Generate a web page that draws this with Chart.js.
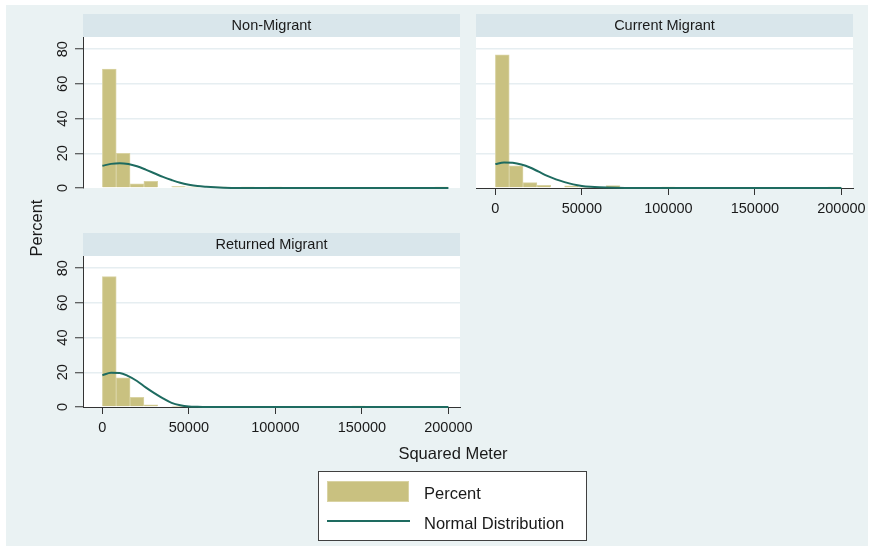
<!DOCTYPE html>
<html>
<head>
<meta charset="utf-8">
<script src="https://cdn.jsdelivr.net/npm/chart.js@4.4.1/dist/chart.umd.min.js"></script>
<style>
  body { margin: 0; width: 873px; height: 550px; background: #fff; position: relative; overflow: hidden;
         font-family: "Liberation Sans", Arial, sans-serif; color: #1a1a1a; }
  #bg { position: absolute; left: 6px; top: 5px; width: 862px; height: 541px; background: #eaf2f3; }
  canvas { position: absolute; }
  #c1 { left: 0; top: 10px; }
  #c2 { left: 465px; top: 10px; }
  #c3 { left: 0; top: 228px; }
  .baslik { position: absolute; font-size: 16.5px; font-weight: normal; white-space: nowrap;
            text-align: center; height: 20px; line-height: 20px; }
  #ytitle { left: 6px; top: 218px; width: 60px; transform: rotate(-90deg); }
  #xtitle { left: 393px; top: 443px; width: 120px; }
  #legend { position: absolute; left: 318px; top: 471px; width: 269px; height: 70px; box-sizing: border-box;
            border: 1px solid #404040; background: #fff; }
  #sw1 { position: absolute; left: 8px; top: 9px; width: 82px; height: 21px; box-sizing: border-box;
         background: #c9c180; border: 1px solid #d9d3a3; }
  #sw2 { position: absolute; left: 8px; top: 48px; width: 83px; height: 2px; background: #1e6b60; }
  .lt { position: absolute; left: 105px; font-size: 16.5px; height: 20px; line-height: 20px; white-space: nowrap; }
</style>
</head>
<body>
<div id="bg"></div>
<canvas id="c1" width="470" height="190" style="width:470px;height:190px"></canvas>
<canvas id="c2" width="408" height="215" style="width:408px;height:215px"></canvas>
<canvas id="c3" width="480" height="217" style="width:480px;height:217px"></canvas>
<div id="ytitle" class="baslik">Percent</div>
<div id="xtitle" class="baslik">Squared Meter</div>
<div id="legend">
  <div id="sw1"></div>
  <div class="lt" style="top:11px">Percent</div>
  <div id="sw2"></div>
  <div class="lt" style="top:41px">Normal Distribution</div>
</div>
<script>
// histogram bins (8000 m2 wide), midpoints
const binMids = [4000, 12000, 20000, 28000, 36000, 44000, 52000, 60000, 68000, 76000,
                 84000, 92000, 100000, 108000, 116000, 124000, 132000, 140000, 148000, 156000,
                 164000, 172000, 180000, 188000, 196000];

const nonMigrant = [68.5, 20, 2.4, 3.8, 0, 0.8, 0.6, 0, 0.5, 0,
                    0.5, 0, 0.5, 0, 0, 0, 0, 0, 0, 0,
                    0, 0, 0, 0, 0.5];
const currentMigrant = [76.7, 12.8, 3.1, 1.5, 0, 1.3, 0.6, 0, 1.4, 0,
                        0, 0, 0.5, 0, 0, 0, 0, 0, 0, 0,
                        0, 0, 0, 0, 0.5];
const returnedMigrant = [75.1, 16.8, 5.5, 1.3, 0, 0.4, 0, 0, 0, 0,
                         0, 0, 0, 0, 0, 0, 0, 0, 0.5, 0,
                         0, 0, 0, 0, 0];

// normal curves
const curveX = [0, 5000, 10000, 15000, 20000, 25000, 30000, 35000, 40000, 45000,
                50000, 55000, 60000, 70000, 80000, 200000];
const nonMigrantCurve = [12.8, 13.9, 14.3, 13.8, 12.5, 10.6, 8.5, 6.4, 4.6, 3.0,
                         1.9, 1.1, 0.7, 0.2, 0.05, 0];
const currentMigrantCurve = [13.8, 14.7, 14.5, 13.5, 11.8, 9.4, 7.0, 5.0, 3.4, 2.1,
                             1.2, 0.7, 0.4, 0.1, 0, 0];
const returnedMigrantCurve = [18.3, 19.7, 19.6, 17.8, 15.0, 11.3, 8.0, 5.0, 2.4, 1.0,
                              0.3, 0.1, 0, 0, 0, 0];

const xTicks = [0, 50000, 100000, 150000, 200000];
const xTickLabels = ["0", "50000", "100000", "150000", "200000"];
const yTicks = [0, 20, 40, 60, 80];
const yTickLabels = ["0", "20", "40", "60", "80"];

const KHAKI = "#c9c180";
const KHAKI_EDGE = "#d9d3a3";
const TEAL = "#1e6b60";
const GRID = "#e6eef1";
const STRIP = "#d9e6eb";
const TEXT = "#1a1a1a";
const FONT = "'Liberation Sans', Arial, sans-serif";

Chart.defaults.font.family = FONT;

const stripPlugin = {
  id: "strip",
  beforeDraw(chart, args, opts) {
    const { ctx, chartArea: a } = chart;
    ctx.save();
    ctx.fillStyle = "#fff";
    ctx.fillRect(a.left, a.top, a.right - a.left, a.bottom - a.top);
    ctx.fillStyle = STRIP;
    ctx.fillRect(a.left, a.top - 23, a.right - a.left, 23);
    ctx.fillStyle = TEXT;
    ctx.font = "14.5px " + FONT;
    ctx.textAlign = "center";
    ctx.textBaseline = "middle";
    ctx.fillText(opts.text, (a.left + a.right) / 2, a.top - 11.5);
    ctx.restore();
  }
};

// Chart.js does not rotate y tick labels, so draw them here at the scale's positions
const yLabelPlugin = {
  id: "yLabels",
  afterDraw(chart, args, opts) {
    if (!opts.show) return;
    const { ctx } = chart;
    const y = chart.scales.y;
    ctx.save();
    ctx.fillStyle = TEXT;
    ctx.font = "14.5px " + FONT;
    ctx.textAlign = "center";
    ctx.textBaseline = "middle";
    yTicks.forEach((v, i) => {
      ctx.save();
      ctx.translate(62.5, y.getPixelForValue(v));
      ctx.rotate(-Math.PI / 2);
      ctx.fillText(yTickLabels[i], 0, 0);
      ctx.restore();
    });
    ctx.restore();
  }
};

function panel(id, title, bars, curve, o) {
  const canvas = document.getElementById(id);
  return new Chart(canvas, {
    type: "bar",
    data: {
      datasets: [
        {
          type: "line",
          data: curveX.map((x, i) => ({ x: x, y: curve[i] })),
          borderColor: TEAL,
          borderWidth: 2,
          pointRadius: 0,
          cubicInterpolationMode: "monotone",
          clip: 3,
          order: 0
        },
        {
          type: "bar",
          data: binMids.map((x, i) => ({ x: x, y: bars[i] })),
          backgroundColor: KHAKI,
          borderColor: KHAKI_EDGE,
          borderWidth: 1,
          barPercentage: 1,
          categoryPercentage: 1,
          clip: 2,
          order: 1
        }
      ]
    },
    options: {
      responsive: false,
      animation: false,
      events: [],
      layout: { padding: o.pad },
      plugins: {
        legend: { display: false },
        tooltip: { enabled: false },
        strip: { text: title },
        yLabels: { show: o.yAxis }
      },
      scales: {
        x: {
          type: "linear",
          min: -11200,
          max: 206700,
          offset: false,
          display: o.xAxis,
          afterBuildTicks: (s) => { s.ticks = xTicks.map((v) => ({ value: v })); },
          afterFit: (s) => { s.height = o.xHeight; },
          ticks: {
            callback: (v, i) => xTickLabels[i],
            maxRotation: 0,
            autoSkip: false,
            color: TEXT,
            font: { size: 14.5 },
            padding: 5
          },
          grid: { offset: false, drawOnChartArea: false, tickLength: 7, tickColor: "#333" },
          border: { color: "#333", width: 1 }
        },
        y: {
          min: 0,
          max: 87,
          afterBuildTicks: (s) => { s.ticks = yTicks.map((v) => ({ value: v })); },
          afterFit: (s) => { s.width = o.yWidth; },
          ticks: { display: false },
          grid: {
            color: (c) => (c.tick && c.tick.value === 0 ? "rgba(0,0,0,0)" : GRID),
            lineWidth: 1.5,
            drawTicks: o.yAxis,
            tickLength: 8,
            tickColor: "#333",
            tickWidth: 1
          },
          border: { display: o.yAxis, color: "#333", width: 1 }
        }
      }
    },
    plugins: [stripPlugin, yLabelPlugin]
  });
}

panel("c1", "Non-Migrant", nonMigrant, nonMigrantCurve,
  { pad: { left: 0, top: 27, right: 10, bottom: 12 }, xAxis: false, yAxis: true, yWidth: 83, xHeight: 0 });
panel("c2", "Current Migrant", currentMigrant, currentMigrantCurve,
  { pad: { left: 11, top: 27, right: 20, bottom: 0 }, xAxis: true, yAxis: false, yWidth: 0, xHeight: 37 });
panel("c3", "Returned Migrant", returnedMigrant, returnedMigrantCurve,
  { pad: { left: 0, top: 28, right: 20, bottom: 0 }, xAxis: true, yAxis: true, yWidth: 83, xHeight: 38 });
</script>
</body>
</html>
